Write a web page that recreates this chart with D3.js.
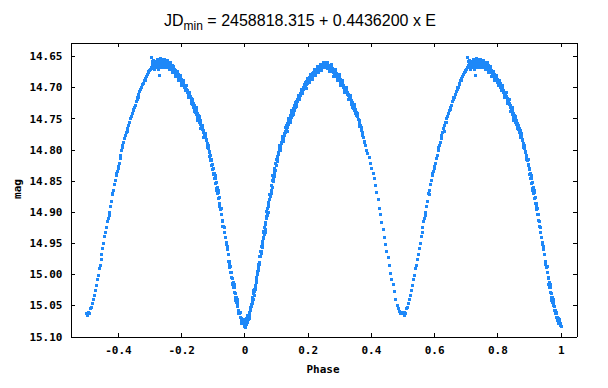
<!DOCTYPE html>
<html>
<head>
<meta charset="utf-8">
<script src="https://cdn.jsdelivr.net/npm/d3@7/dist/d3.min.js"></script>
<style>
  html, body { margin: 0; padding: 0; background: #fff; }
  svg { display: block; }
</style>
</head>
<body>
<svg id="chart" width="608" height="388"></svg>
<script>
// ---- Data (phase, mag), phase 0..1 ----
const risePrimary = [
  [0.000,15.081],[0.001,15.076],[0.002,15.079],[0.003,15.083],[0.004,15.075],[0.005,15.076],[0.006,15.070],[0.007,15.077],[0.008,15.071],[0.009,15.074],[0.010,15.067],[0.011,15.072],
  [0.0125,15.066],[0.014,15.060],[0.015,15.065],[0.0165,15.058],[0.0175,15.055],[0.019,15.053],[0.020,15.048],[0.021,15.051],[0.0225,15.042],[0.024,15.045],[0.025,15.036],[0.026,15.039],
  [0.0275,15.030],[0.029,15.033],[0.030,15.024],[0.031,15.027],[0.0325,15.017],[0.034,15.020],[0.035,15.010],[0.036,15.013],[0.0375,15.004],[0.039,15.000],[0.040,14.995],[0.041,14.998],
  [0.0425,14.988],[0.044,14.984],[0.045,14.980],[0.046,14.983],[0.0475,14.971],[0.049,14.970],[0.050,14.963],[0.0515,14.966],[0.0525,14.955],[0.054,14.957],[0.055,14.947],[0.056,14.951],
  [0.0575,14.940],[0.059,14.942],[0.060,14.932],[0.061,14.936],[0.0625,14.925],[0.064,14.928],[0.065,14.916],[0.066,14.920],[0.0675,14.910],[0.069,14.906],[0.070,14.901],[0.071,14.905],
  [0.0725,14.894],[0.074,14.890],[0.075,14.887],[0.076,14.884],[0.0775,14.879],[0.079,14.880],[0.080,14.871],[0.081,14.874],[0.0825,14.864],[0.084,14.866],[0.085,14.856],[0.086,14.860],
  [0.0875,14.849],[0.089,14.851],[0.090,14.842],[0.091,14.846],[0.0925,14.835],[0.094,14.837],[0.095,14.829],[0.096,14.832],[0.0975,14.822],[0.099,14.824],[0.100,14.815],[0.1015,14.818],
  [0.103,14.810],[0.1045,14.812],[0.106,14.804],[0.1075,14.807],[0.109,14.798],[0.1105,14.800],[0.112,14.793],[0.1135,14.796],[0.115,14.787],[0.1165,14.790],[0.118,14.783],[0.1195,14.786],
  [0.121,14.778],[0.1225,14.781],[0.124,14.774],[0.1255,14.776],[0.127,14.770],[0.1285,14.772],[0.130,14.765],[0.1315,14.768],[0.133,14.760],[0.1345,14.763],[0.136,14.757],[0.1375,14.759],
  [0.139,14.752],[0.1405,14.755],[0.142,14.749],[0.1435,14.751],[0.145,14.745],[0.1465,14.748],[0.148,14.741],[0.1495,14.744],[0.151,14.737],[0.1525,14.740],[0.154,14.733],[0.1555,14.736],
  [0.157,14.729],[0.1585,14.732],[0.160,14.726],[0.1615,14.729],[0.163,14.722],[0.1645,14.725],[0.166,14.719],[0.1675,14.722],[0.169,14.715],[0.1705,14.718],[0.172,14.713],[0.1735,14.715],
  [0.175,14.709],[0.1765,14.712],[0.178,14.706],[0.1795,14.709],[0.181,14.703],[0.1825,14.706],[0.184,14.700],[0.1855,14.703],[0.187,14.697],[0.1885,14.700],[0.190,14.695],[0.1915,14.698],
  [0.193,14.692],[0.1945,14.695],[0.196,14.690],[0.1975,14.693],[0.199,14.687],[0.2005,14.690],[0.202,14.685],[0.2035,14.688],[0.205,14.683],[0.2065,14.686],[0.208,14.681],[0.2095,14.684],
  [0.211,14.679],[0.2125,14.682],[0.214,14.677],[0.2155,14.680],[0.217,14.675],[0.2185,14.678],[0.220,14.673],[0.2215,14.677],[0.223,14.672],[0.2245,14.675],[0.226,14.670],[0.2275,14.674],
  [0.229,14.669],[0.2305,14.672],[0.232,14.667],[0.2335,14.671],[0.235,14.666],[0.2365,14.670],[0.238,14.665],[0.2395,14.669],[0.241,14.664],[0.2425,14.668],[0.244,14.663],[0.2455,14.667],
  [0.247,14.662],[0.2485,14.666],[0.250,14.661],
  [0.0015,15.084],[0.0055,15.080],[0.0085,15.066],[0.0135,15.070],[0.0185,15.058],[0.0235,15.046],[0.0285,15.026],[0.0335,15.024],[0.0385,14.996],[0.0435,14.994],
  [0.0485,14.962],[0.0535,14.962],[0.0585,14.931],[0.0635,14.932],[0.0685,14.899],[0.0735,14.900],[0.0785,14.871],[0.0835,14.870],[0.0885,14.841],[0.0935,14.842],
  [0.0985,14.815],[0.1035,14.817],[0.1085,14.793],[0.1135,14.800],[0.1185,14.778],[0.1235,14.786],[0.1285,14.764],[0.1335,14.770],[0.1385,14.750],[0.1435,14.756],
  [0.1485,14.737],[0.1535,14.742],[0.1585,14.724],[0.1635,14.730],[0.1685,14.713],[0.1735,14.719],[0.1785,14.703],[0.1835,14.709],[0.1885,14.694],[0.1935,14.701],
  [0.1985,14.685],[0.2035,14.692],[0.2085,14.678],[0.2135,14.686],[0.2185,14.671],[0.2235,14.680],[0.2285,14.666],[0.2335,14.676],[0.2385,14.662],[0.2435,14.672],[0.2485,14.659]
];

const fallSecondary = [
  [0.2515,14.664],[0.253,14.660],[0.2545,14.667],[0.256,14.663],[0.2575,14.668],[0.259,14.662],[0.2605,14.666],[0.262,14.669],[0.2635,14.664],[0.265,14.667],[0.2665,14.670],[0.268,14.665],
  [0.2695,14.669],[0.271,14.672],[0.2725,14.667],[0.274,14.671],[0.2755,14.674],[0.277,14.669],[0.2785,14.673],[0.280,14.676],[0.2815,14.671],[0.283,14.675],[0.2845,14.678],[0.286,14.674],
  [0.2875,14.680],[0.289,14.677],[0.2905,14.682],[0.292,14.679],[0.2935,14.684],[0.295,14.681],[0.2965,14.687],[0.298,14.684],[0.2995,14.689],[0.301,14.686],[0.3025,14.691],[0.304,14.689],
  [0.3055,14.694],[0.307,14.691],[0.3085,14.697],[0.310,14.694],[0.3115,14.699],[0.313,14.697],[0.3145,14.702],[0.316,14.700],[0.3175,14.705],[0.319,14.702],[0.3205,14.707],[0.322,14.705],
  [0.3235,14.710],[0.325,14.708],[0.3265,14.713],[0.328,14.711],[0.3295,14.716],[0.331,14.713],[0.3325,14.719],[0.334,14.717],[0.3355,14.722],[0.337,14.720],[0.3385,14.726],[0.340,14.723],
  [0.3415,14.729],[0.343,14.727],[0.3445,14.733],[0.346,14.731],[0.3475,14.737],[0.349,14.735],[0.351,14.741],[0.353,14.740],[0.355,14.746],[0.357,14.745],[0.359,14.751],[0.361,14.753],
  [0.363,14.758],[0.365,14.761],[0.367,14.764],[0.369,14.769],[0.371,14.772],[0.373,14.777],[0.375,14.780],[0.377,14.786],[0.379,14.788],
  [0.381,14.792],[0.385,14.800],[0.389,14.806],[0.393,14.812],[0.397,14.822],[0.401,14.829],[0.405,14.838],[0.409,14.846],[0.413,14.857],[0.417,14.868],
  [0.421,14.880],[0.425,14.893],[0.429,14.904],[0.433,14.916],[0.437,14.928],[0.441,14.941],[0.445,14.952],[0.449,14.962],[0.453,14.973],[0.457,14.986],
  [0.461,14.998],[0.465,15.008],[0.469,15.016],[0.473,15.027],[0.477,15.039],[0.481,15.050],[0.485,15.055],[0.489,15.059],[0.493,15.062],[0.497,15.060],
  [0.2555,14.659],[0.2615,14.660],[0.2675,14.674],[0.2735,14.663],[0.2795,14.681],[0.2855,14.670],[0.2915,14.688],[0.2975,14.679],[0.3035,14.696],[0.3095,14.689],
  [0.3155,14.707],[0.3215,14.700],[0.3275,14.718],[0.3335,14.712],[0.3395,14.731],[0.3455,14.727],[0.3515,14.745],[0.3575,14.741],[0.3625,14.762],[0.3685,14.765]
];

const riseSecondary = [
  [0.500,15.063],[0.503,15.065],[0.506,15.060],[0.509,15.062],[0.512,15.055],[0.515,15.052],[0.518,15.046],[0.521,15.040],[0.524,15.033],[0.527,15.026],[0.530,15.017],[0.533,15.008],
  [0.536,15.001],[0.539,14.990],[0.542,14.985],[0.545,14.975],[0.548,14.968],[0.551,14.958],[0.554,14.950],[0.557,14.939],[0.560,14.932],[0.563,14.925],[0.566,14.915],[0.569,14.910],
  [0.5705,14.905],[0.572,14.900],[0.575,14.890],[0.578,14.882],[0.581,14.870],[0.5825,14.872],[0.584,14.864],[0.587,14.855],[0.590,14.848],[0.593,14.840],[0.5945,14.837],[0.596,14.834],
  [0.599,14.827],[0.6005,14.829],[0.602,14.821],[0.605,14.813],[0.608,14.808],[0.611,14.800],[0.6125,14.796],[0.614,14.792],[0.617,14.787],[0.620,14.781],[0.623,14.776],[0.6245,14.771],
  [0.626,14.772],[0.629,14.766],[0.630,14.770],[0.632,14.761],[0.635,14.756],[0.6365,14.756],[0.638,14.750],[0.641,14.746],[0.644,14.741],[0.647,14.736],[0.6485,14.734],[0.650,14.731],
  [0.653,14.728],[0.656,14.722],[0.659,14.719],[0.6605,14.715],[0.662,14.716],[0.665,14.711],[0.668,14.706],[0.671,14.703],[0.6725,14.700],[0.674,14.699],[0.677,14.695],[0.680,14.693],
  [0.683,14.688],[0.6845,14.689],[0.686,14.685],[0.689,14.682],[0.692,14.678],[0.695,14.676],[0.6965,14.674],[0.698,14.672],[0.701,14.670],[0.704,14.668],[0.705,14.652],[0.707,14.664],
  [0.709,14.662],[0.710,14.667],[0.712,14.669],[0.713,14.662],[0.715,14.663],[0.716,14.665],[0.718,14.668],[0.719,14.661],[0.721,14.660],[0.722,14.666],[0.724,14.667],[0.725,14.662],
  [0.727,14.664],[0.728,14.660],[0.730,14.680],[0.731,14.664],[0.733,14.666],[0.734,14.658],[0.736,14.660],[0.737,14.662],[0.739,14.664],[0.740,14.657],[0.742,14.659],[0.743,14.661],
  [0.745,14.665],[0.746,14.659],[0.748,14.657],[0.749,14.663],
  [0.7065,14.658],[0.7115,14.656],[0.7145,14.671],[0.7175,14.657],[0.7235,14.655],[0.7255,14.654],[0.7265,14.670],[0.7295,14.656],[0.7325,14.653],[0.7355,14.668],
  [0.7385,14.655],[0.7415,14.668],[0.7445,14.654],[0.7475,14.667]
];

const fallPrimary = [
  [0.7515,14.666],[0.753,14.660],[0.7545,14.664],[0.756,14.659],[0.7575,14.667],[0.759,14.662],[0.7605,14.665],[0.762,14.660],[0.7635,14.668],[0.765,14.663],[0.7665,14.667],[0.768,14.670],
  [0.7695,14.664],[0.771,14.669],[0.7725,14.672],[0.774,14.667],[0.7755,14.674],[0.777,14.670],[0.7785,14.676],[0.780,14.672],[0.7815,14.678],[0.783,14.675],[0.7845,14.680],[0.786,14.677],
  [0.7875,14.682],[0.789,14.679],[0.7905,14.684],[0.792,14.681],[0.7935,14.686],[0.795,14.683],[0.7965,14.689],[0.798,14.686],[0.7995,14.691],[0.801,14.688],[0.8025,14.693],[0.804,14.691],
  [0.8055,14.696],[0.807,14.693],[0.8085,14.699],[0.810,14.696],[0.8115,14.701],[0.813,14.699],[0.8145,14.704],[0.816,14.702],[0.8175,14.707],[0.819,14.705],[0.8205,14.710],[0.822,14.708],
  [0.8235,14.713],[0.825,14.711],[0.8265,14.716],[0.828,14.714],[0.8295,14.720],[0.831,14.717],[0.8325,14.723],[0.834,14.721],[0.8355,14.727],[0.837,14.725],[0.8385,14.731],[0.840,14.729],
  [0.8415,14.735],[0.843,14.733],[0.8445,14.739],[0.846,14.737],[0.8475,14.743],[0.849,14.741],[0.8505,14.747],[0.852,14.745],[0.8535,14.751],[0.855,14.749],[0.8565,14.755],[0.858,14.753],
  [0.8595,14.759],[0.861,14.757],[0.8625,14.763],[0.864,14.761],[0.8655,14.767],[0.867,14.765],[0.8685,14.771],[0.870,14.769],[0.8715,14.776],[0.873,14.774],[0.8745,14.780],[0.876,14.778],
  [0.8775,14.785],[0.879,14.783],[0.8805,14.791],[0.882,14.790],[0.8835,14.797],[0.885,14.796],[0.8865,14.803],[0.888,14.802],[0.8895,14.810],[0.891,14.809],[0.8925,14.817],[0.894,14.816],
  [0.8955,14.824],[0.897,14.823],[0.8985,14.831],[0.900,14.830],[0.9015,14.838],[0.903,14.837],[0.9045,14.845],[0.906,14.845],[0.9075,14.853],[0.909,14.852],[0.9105,14.861],[0.912,14.860],
  [0.9135,14.869],[0.915,14.868],[0.9165,14.877],[0.918,14.876],[0.9195,14.886],[0.921,14.885],[0.9225,14.895],[0.924,14.894],[0.9255,14.904],[0.927,14.903],[0.9285,14.913],[0.930,14.914],
  [0.9315,14.923],[0.933,14.922],[0.9345,14.932],[0.936,14.932],[0.9375,14.941],[0.939,14.940],[0.9405,14.950],[0.942,14.949],[0.9435,14.959],[0.945,14.959],[0.9465,14.968],[0.948,14.968],
  [0.9495,14.978],[0.951,14.978],[0.9525,14.988],[0.954,14.987],[0.9555,14.997],[0.957,14.996],[0.9585,15.005],[0.960,15.006],[0.9615,15.014],[0.963,15.013],[0.9645,15.021],[0.966,15.021],
  [0.9675,15.029],[0.969,15.030],[0.9705,15.037],[0.972,15.037],[0.9735,15.044],[0.975,15.044],[0.9765,15.050],[0.978,15.051],[0.9795,15.057],[0.981,15.058],[0.9825,15.063],[0.984,15.063],
  [0.9855,15.068],[0.987,15.068],[0.9885,15.073],[0.990,15.071],[0.9915,15.077],[0.993,15.074],[0.9945,15.079],[0.996,15.076],[0.9975,15.081],[0.999,15.078],[1.000,15.083],
  [0.7555,14.656],[0.7605,14.670],[0.7655,14.659],[0.7705,14.675],[0.7755,14.666],[0.7805,14.681],[0.7855,14.673],[0.7905,14.689],[0.7955,14.680],[0.8005,14.696],
  [0.8055,14.688],[0.8105,14.705],[0.8155,14.697],[0.8205,14.715],[0.8255,14.707],[0.8305,14.725],[0.8355,14.718],[0.8405,14.738],[0.8455,14.732],[0.8505,14.752],
  [0.8555,14.746],[0.8605,14.766],[0.8655,14.760],[0.8705,14.780],[0.8755,14.774],[0.8805,14.796],[0.8855,14.792],[0.8905,14.815],[0.8955,14.815],[0.9005,14.839],
  [0.9055,14.840],[0.9105,14.865],[0.9155,14.864],[0.9205,14.890],[0.9255,14.893],[0.9305,14.922],[0.9355,14.924],[0.9405,14.952],[0.9455,14.955],[0.9505,14.983],
  [0.9555,14.987],[0.9605,15.015],[0.9655,15.016],[0.9705,15.042],[0.9755,15.040],[0.9805,15.062],[0.9855,15.060],[0.9905,15.079],[0.9955,15.072]
];

const xTicks = [-0.4, -0.2, 0, 0.2, 0.4, 0.6, 0.8, 1];
const xTickLabels = ["-0.4", "-0.2", "0", "0.2", "0.4", "0.6", "0.8", "1"];
const yTicks = [14.65, 14.70, 14.75, 14.80, 14.85, 14.90, 14.95, 15.00, 15.05, 15.10];
const titleMain = "JD";
const titleSub = "min";
const titleRest = " = 2458818.315 + 0.4436200 x E";
const xLabel = "Phase";
const yLabel = "mag";

// ---- Layout ----
const svg = d3.select("#chart");
const L = 70.5, R = 576.5, T = 42.5, B = 336.5;
const monoFont = "'DejaVu Sans Mono', 'Liberation Mono', monospace";

const x = d3.scaleLinear().domain([-0.55, 1.05]).range([L, R]);
const y = d3.scaleLinear().domain([14.628, 15.10]).range([T, B]);

// all observations; the half 0.5..1 is also shown at phase-1 (standard phase folding)
const obs = [].concat(risePrimary, fallSecondary, riseSecondary, fallPrimary);
const plotted = obs.concat(obs.filter(d => d[0] >= 0.5).map(d => [d[0] - 1, d[1]]));

// Points
svg.append("g")
  .selectAll("rect")
  .data(plotted)
  .join("rect")
  .attr("x", d => Math.round(x(d[0])) - 1)
  .attr("y", d => Math.round(y(d[1])) - 1)
  .attr("width", 3)
  .attr("height", 3)
  .attr("fill", "#1E88F8")
  .attr("shape-rendering", "crispEdges");

// Axes
const xFmt = (d) => xTickLabels[xTicks.indexOf(d)];
const gB = svg.append("g").attr("transform", `translate(0,${B})`)
  .call(d3.axisBottom(x).tickValues(xTicks).tickFormat(xFmt).tickSizeInner(-4).tickSizeOuter(0).tickPadding(10));
const gT = svg.append("g").attr("transform", `translate(0,${T})`)
  .call(d3.axisTop(x).tickValues(xTicks).tickFormat("").tickSizeInner(-4).tickSizeOuter(0));
const gL = svg.append("g").attr("transform", `translate(${L},0)`)
  .call(d3.axisLeft(y).tickValues(yTicks).tickFormat(d3.format(".2f")).tickSizeInner(-4).tickSizeOuter(0).tickPadding(8));
const gR = svg.append("g").attr("transform", `translate(${R},0)`)
  .call(d3.axisRight(y).tickValues(yTicks).tickFormat("").tickSizeInner(-4).tickSizeOuter(0));

[gB, gT, gL, gR].forEach(g => {
  g.attr("font-family", monoFont).attr("font-size", 11).attr("font-weight", "bold");
  g.selectAll("path.domain").attr("stroke", "#000").attr("stroke-width", 1).attr("shape-rendering", "crispEdges");
  g.selectAll(".tick line").attr("stroke", "#000").attr("shape-rendering", "crispEdges");
  g.selectAll(".tick text").attr("fill", "#000");
});

// Axis labels
svg.append("text")
  .attr("x", 323).attr("y", 373)
  .attr("text-anchor", "middle")
  .attr("font-family", monoFont).attr("font-size", 11).attr("font-weight", "bold")
  .text(xLabel);

svg.append("text")
  .attr("transform", "translate(21,189) rotate(-90)")
  .attr("text-anchor", "middle")
  .attr("font-family", monoFont).attr("font-size", 11).attr("font-weight", "bold")
  .text(yLabel);

// Title
const title = svg.append("text")
  .attr("x", 300).attr("y", 26)
  .attr("text-anchor", "middle")
  .attr("font-family", "'Liberation Sans', Arial, sans-serif")
  .attr("font-size", 16)
  .attr("fill", "#000");
title.append("tspan").text(titleMain);
title.append("tspan").attr("font-size", 12).attr("dy", 4).text(titleSub);
title.append("tspan").attr("dy", -4).text(titleRest);
</script>
</body>
</html>
